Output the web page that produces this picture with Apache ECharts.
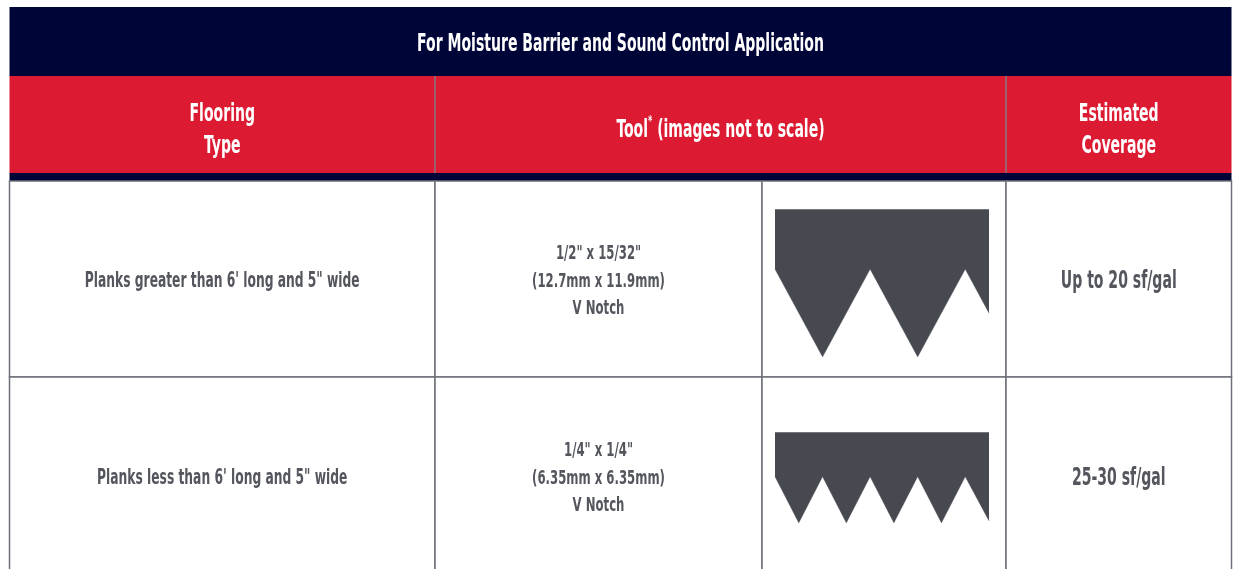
<!DOCTYPE html>
<html>
<head>
<meta charset="utf-8">
<script src="https://cdn.jsdelivr.net/npm/echarts@6/dist/echarts.min.js"></script>
<style>html,body{margin:0;padding:0;background:#fff}#c{width:1236px;height:569px}</style>
</head>
<body>
<div id="c"></div>
<script>
// ---------- data ----------
const title = 'For Moisture Barrier and Sound Control Application';
const headers = ['Flooring\nType', 'Tool{sup|*} (images not to scale)', 'Estimated\nCoverage'];
const flooringTypes = ["Planks greater than 6' long and 5\" wide", "Planks less than 6' long and 5\" wide"];
const toolSizes = ['1/2" x 15/32"', '1/4" x 1/4"'];
const toolSizesMetric = ['(12.7mm x 11.9mm)', '(6.35mm x 6.35mm)'];
const toolTypes = ['V Notch', 'V Notch'];
const coverage = ['Up to 20 sf/gal', '25-30 sf/gal'];
// notch profiles: [position along blade (half-teeth), height above tooth tip]
const notch1Profile = [[0, 88], [1, 0], [2, 88], [3, 0], [4, 88], [4.5, 44]];
const notch1Top = 148;
const notch2Profile = [[0, 46], [1, 0], [2, 46], [3, 0], [4, 46], [5, 0], [6, 46], [7, 0], [8, 46], [9, 2]];
const notch2Top = 90;

// ---------- layout & style ----------
const COLS = [0, 425.5, 752.5, 996.5, 1222];
const ROWS = [0, 69, 166, 174, 370, 568];
const NAVY = '#000538', RED = '#dc1b33', GREY = '#6d707a', TXT = '#54565e', NOTCH = '#474951';
const FONT = "'Liberation Sans Narrow','DejaVu Sans Condensed',sans-serif";
const SX = 0.65;

const cells = [];
cells.push({c: [0, 4], r: [0, 1], fill: NAVY, text: title, color: '#fff', size: 24, dy: 3, lh: 30});
const hc = [[0, 1], [1, 3], [3, 4]];
headers.forEach((h, i) => cells.push({c: hc[i], r: [1, 2], fill: RED, text: h, color: '#fff', size: 24, dy: 6, lh: 32, sep: i > 0}));
cells.push({c: [0, 4], r: [2, 3], fill: NAVY});
flooringTypes.forEach((f, i) => {
  const r = [3 + i, 4 + i];
  const dy = i === 0 ? 3 : 3;
  cells.push({c: [0, 1], r, fill: '#fff', stroke: GREY, text: f, color: TXT, size: 21, dy, lh: 28});
  cells.push({c: [1, 2], r, fill: '#fff', stroke: GREY, text: toolSizes[i] + '\n' + toolSizesMetric[i] + '\n' + toolTypes[i], color: TXT, size: 20, dy: dy - 0.5, lh: 27.5});
  cells.push({c: [2, 3], r, fill: '#fff', stroke: GREY});
  cells.push({c: [3, 4], r, fill: '#fff', stroke: GREY, text: coverage[i], color: TXT, size: 24, dy, lh: 28});
});

const cellData = cells.map(c => [COLS[c.c[0]], ROWS[c.r[0]], COLS[c.c[1]], ROWS[c.r[1]]]);

function renderItem(params, api) {
  const c = cells[params.dataIndex];
  const p0 = api.coord([api.value(0), api.value(1)]);
  const p1 = api.coord([api.value(2), api.value(3)]);
  const ch = [{
    type: 'rect',
    shape: {x: p0[0], y: p0[1], width: p1[0] - p0[0], height: p1[1] - p0[1]},
    style: {fill: c.fill, stroke: c.stroke || null, lineWidth: c.stroke ? 1.5 : 0}
  }];
  if (c.sep) {
    ch.push({type: 'line', shape: {x1: p0[0], y1: p0[1], x2: p0[0], y2: p1[1]}, style: {stroke: '#857680', lineWidth: 1.5}});
  }
  if (c.text) {
    ch.push({
      type: 'text', x: (p0[0] + p1[0]) / 2, y: (p0[1] + p1[1]) / 2 + (c.dy || 0), scaleX: SX,
      style: {
        text: c.text, fill: c.color, fontSize: c.size, fontFamily: FONT, fontWeight: 'bold',
        align: 'center', verticalAlign: 'middle', lineHeight: c.lh,
        rich: {sup: {fontSize: 14, fontFamily: FONT, fontWeight: 'bold', fill: c.color, verticalAlign: 'top', lineHeight: 18}}
      }
    });
  }
  return {type: 'group', children: ch};
}

const chart = echarts.init(document.getElementById('c'), null, {renderer: 'canvas'});
chart.setOption({
  animation: false,
  backgroundColor: '#fff',
  grid: [
    {left: 9.5, top: 7, width: 1222, height: 562},
    {left: 775, top: 209.3, width: 214, height: 147.5},
    {left: 775, top: 432.3, width: 214, height: 90.5}
  ],
  xAxis: [
    {type: 'value', gridIndex: 0, min: 0, max: 1222, show: false},
    {type: 'value', gridIndex: 1, min: 0, max: 4.5, show: false},
    {type: 'value', gridIndex: 2, min: 0, max: 9, show: false}
  ],
  yAxis: [
    {type: 'value', gridIndex: 0, min: 0, max: 562, inverse: true, show: false},
    {type: 'value', gridIndex: 1, min: 0, max: notch1Top, show: false},
    {type: 'value', gridIndex: 2, min: 0, max: notch2Top, show: false}
  ],
  series: [
    {type: 'custom', xAxisIndex: 0, yAxisIndex: 0, renderItem, data: cellData, z: 1, silent: true, clip: false},
    {type: 'line', xAxisIndex: 1, yAxisIndex: 1, data: notch1Profile, symbol: 'none', z: 5,
      lineStyle: {color: NOTCH, width: 0.5}, areaStyle: {color: NOTCH, opacity: 1, origin: 'end'}, silent: true},
    {type: 'line', xAxisIndex: 2, yAxisIndex: 2, data: notch2Profile, symbol: 'none', z: 5,
      lineStyle: {color: NOTCH, width: 0.5}, areaStyle: {color: NOTCH, opacity: 1, origin: 'end'}, silent: true}
  ]
});
</script>
</body>
</html>
